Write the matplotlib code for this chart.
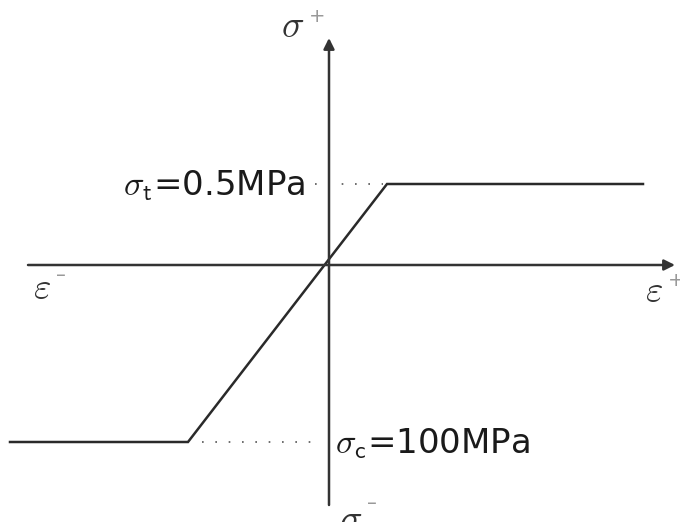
import matplotlib.pyplot as plt

# stress-strain curve (origin at axes crossing), units are arbitrary
strain = [-319, -141, 58, 314]
stress = [-177, -177, 81, 81]
sigma_t = 81
sigma_c = -177

plt.rcParams['mathtext.fontset'] = 'cm'

fig = plt.figure(figsize=(6.8, 5.22), dpi=100)
ax = fig.add_axes([0, 0, 1, 1])
ax.set_xlim(-329, 351)
ax.set_ylim(-257, 265)
ax.axis('off')

# axes with arrows
ax.annotate('', xy=(346, 0), xytext=(-301, 0),
            arrowprops=dict(arrowstyle='-|>', color='#333333', lw=1.8,
                            mutation_scale=16, shrinkA=0, shrinkB=0))
ax.annotate('', xy=(0, 227), xytext=(0, -240),
            arrowprops=dict(arrowstyle='-|>', color='#333333', lw=1.8,
                            mutation_scale=16, shrinkA=0, shrinkB=0))

# curve
ax.plot(strain, stress, color='#2a2a2a', lw=1.8, solid_joinstyle='miter')

# dotted guides
ax.plot([-14, strain[2] - 4], [sigma_t, sigma_t], color='#555555', lw=1.2,
        ls=(0, (1, 7)))
ax.plot([strain[1] + 14, -8], [sigma_c, sigma_c], color='#555555', lw=1.2,
        ls=(0, (1, 7)))

# labels
ax.text(-24, sigma_t - 2, r'$\sigma_{\mathsf{t}}$=0.5MPa', fontsize=24.5,
        ha='right', va='center', color='#1a1a1a')
ax.text(6, sigma_c - 2, r'$\sigma_{\mathsf{c}}$=100MPa', fontsize=24.5,
        ha='left', va='center', color='#1a1a1a')
ax.text(-48, 238, r'$\sigma$', fontsize=27, ha='left', va='center', color='#333333')
ax.text(-20, 249, '+', fontsize=14, ha='left', va='center', color='#999999')
ax.text(10, -256, r'$\sigma$', fontsize=27, ha='left', va='center', color='#333333')
ax.text(38, -238, '\u2013', fontsize=14, ha='left', va='center', color='#999999')
ax.text(-296, -24, r'$\varepsilon$', fontsize=27, ha='left', va='center',
        color='#333333')
ax.text(-273, -11, '\u2013', fontsize=14, ha='left', va='center', color='#999999')
ax.text(316, -27, r'$\varepsilon$', fontsize=27, ha='left', va='center',
        color='#333333')
ax.text(339, -15, '+', fontsize=14, ha='left', va='center', color='#999999')

fig.savefig('out.png', dpi=100)
